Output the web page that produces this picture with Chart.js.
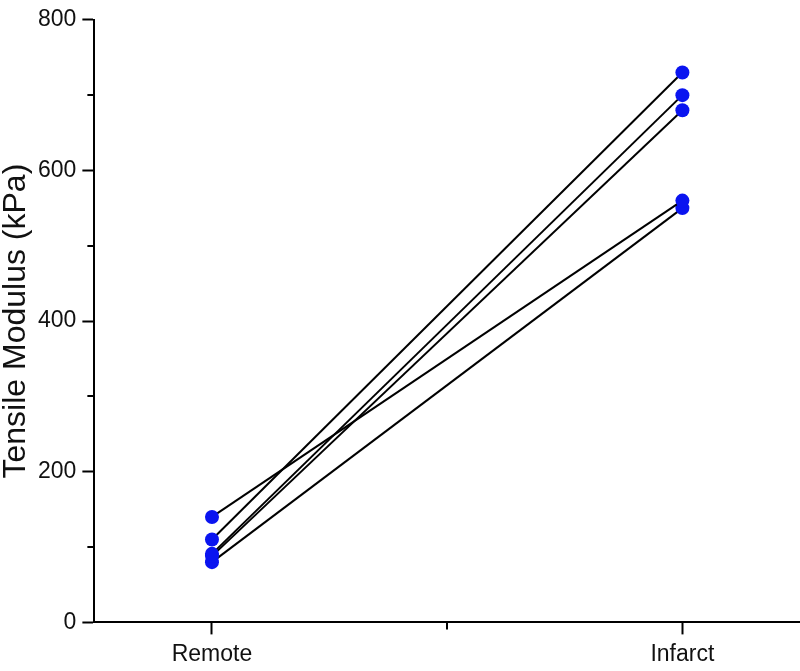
<!DOCTYPE html>
<html>
<head>
<meta charset="utf-8">
<script src="https://cdn.jsdelivr.net/npm/chart.js@4.4.1/dist/chart.umd.min.js"></script>
<style>
  html, body { margin: 0; padding: 0; background: #fff; overflow: hidden; }
  #wrap { width: 807px; height: 671px; }
</style>
</head>
<body>
<div id="wrap"><canvas id="chart"></canvas></div>
<script>
const groups = ['Remote', 'Infarct']
const groupPos = [1, 2]
// one pair per sample: Remote value, Infarct value
const remote = [140, 110, 91, 88, 80]
const infarct = [560, 730, 700, 680, 550]
const yMajorTicks = [0, 200, 400, 600, 800]
const yMinorTicks = [100, 300, 500, 700]
const xMinorTicks = [1.5]

const fontFamily = '"Liberation Sans", Arial, sans-serif'

const datasets = remote.map((r, i) => ({
    label: 'Sample ' + (i + 1),
    data: [
        { x: groupPos[0], y: r },
        { x: groupPos[1], y: infarct[i] }
    ],
    showLine: true,
    borderColor: '#000',
    borderWidth: 2,
    pointRadius: 7,
    pointBackgroundColor: '#0a14f0',
    pointBorderColor: '#0a14f0',
    pointBorderWidth: 0,
    clip: false
}))

// short minor ticks drawn through the scales
const minorTicks = {
    id: 'minorTicks',
    afterDraw(chart) {
        const ctx = chart.ctx
        const x = chart.scales.x
        const y = chart.scales.y
        ctx.save()
        ctx.strokeStyle = '#000'
        ctx.lineWidth = 2
        ctx.beginPath()
        yMinorTicks.forEach(v => {
            const py = Math.round(y.getPixelForValue(v))
            ctx.moveTo(y.right - 7, py)
            ctx.lineTo(y.right, py)
        })
        xMinorTicks.forEach(v => {
            const px = Math.round(x.getPixelForValue(v))
            ctx.moveTo(px, x.top)
            ctx.lineTo(px, x.top + 7)
        })
        ctx.stroke()
        ctx.restore()
    }
}

new Chart(document.getElementById('chart').getContext('2d'), {
    type: 'scatter',
    data: { datasets },
    plugins: [minorTicks],
    options: {
        responsive: true,
        maintainAspectRatio: false,
        animation: false,
        layout: { padding: { top: 8, right: 0, bottom: -3, left: 0 } },
        plugins: {
            legend: { display: false },
            tooltip: { enabled: false }
        },
        scales: {
            x: {
                type: 'linear',
                min: 0.75,
                max: 2.25,
                afterBuildTicks: scale => {
                    scale.ticks = groupPos.map(v => ({ value: v }))
                },
                grid: {
                    drawOnChartArea: false,
                    tickLength: 12,
                    tickWidth: 2,
                    tickColor: '#000'
                },
                border: { color: '#000', width: 2 },
                ticks: {
                    color: '#111',
                    padding: 6,
                    font: { family: fontFamily, size: 23 },
                    maxRotation: 0,
                    callback: value => groups[groupPos.indexOf(value)]
                }
            },
            y: {
                min: 0,
                max: 800,
                afterBuildTicks: scale => {
                    scale.ticks = yMajorTicks.map(v => ({ value: v }))
                },
                grid: {
                    drawOnChartArea: false,
                    tickLength: 12,
                    tickWidth: 2,
                    tickColor: '#000'
                },
                border: { color: '#000', width: 2 },
                ticks: {
                    color: '#111',
                    padding: 6,
                    font: { family: fontFamily, size: 23 }
                },
                title: {
                    display: true,
                    text: 'Tensile Modulus (kPa)',
                    color: '#111',
                    font: { family: fontFamily, size: 32, lineHeight: 1 },
                    padding: { top: 0, bottom: 0 }
                }
            }
        }
    }
})
</script>
</body>
</html>
